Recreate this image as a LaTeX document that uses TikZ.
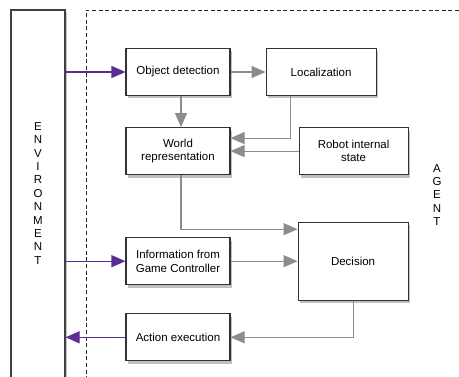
\documentclass[tikz,border=0pt]{standalone}
\usepackage{fontspec}
\setmainfont{Liberation Sans}
\usepackage{tikz}
\usetikzlibrary{positioning,shadows,arrows.meta}
\definecolor{flowgray}{HTML}{8C8C8C}
\definecolor{envpurple}{HTML}{5A2D91}
\begin{document}
\begin{tikzpicture}[x=1pt, y=1pt,
      font=\fontsize{11.5}{13.4}\selectfont,
      block/.style={draw=black!80, line width=1.1pt, fill=white, align=center,
        minimum width=104pt, minimum height=47pt, inner sep=2pt,
        drop shadow={shadow xshift=2pt, shadow yshift=-3pt, opacity=0.45, fill=black!55}},
      flow/.style={draw=flowgray, line width=1.1pt, -{Triangle[length=14pt, width=12pt]}},
      sense/.style={draw=envpurple, line width=1.2pt, -{Triangle[length=14pt, width=12pt]}}]
    \useasboundingbox (0,0) rectangle (459,-377);
    \draw[black!85, line width=0.9pt, dash pattern=on 4pt off 2.6pt] (86,-400) -- (86,-10) -- (480,-10);
    \node[draw=black!75, line width=1.2pt, fill=white, minimum width=54pt, minimum height=392pt,
      align=center,
      drop shadow={shadow xshift=2pt, shadow yshift=-2pt, opacity=0.4, fill=black!55}]
      (env) at (38,-206) {E\\N\\V\\I\\R\\O\\N\\M\\E\\N\\T\\[12pt]};
    \node[align=center] (agent) at (437,-195) {A\\G\\E\\N\\T};
    \node[block] (objdet) at (178,-72) {Object detection};
    \node[block, minimum width=110pt, right=35pt of objdet] (loc) {Localization};
    \node[block, below=31pt of objdet] (world) {World\\representation};
    \node[block, minimum width=109pt, right=68pt of world] (robot) {Robot internal\\state};
    \node[block, below=62pt of world] (info) {Information from\\Game Controller};
    \node[block, minimum width=110pt, minimum height=78pt, right=67pt of info] (decision) {Decision};
    \node[block, below=28pt of info] (action) {Action execution};
    \draw[sense] (env.east |- objdet) -- (objdet.west);
    \draw[sense] (env.east |- info) -- (info.west);
    \draw[sense] (action.west) -- (env.east |- action);
    \draw[flow] (objdet.east) -- (loc.west);
    \draw[flow] ([xshift=3pt]objdet.south) -- ([xshift=3pt]world.north);
    \draw[flow] ([xshift=-31pt]loc.south) |- ([yshift=13pt]world.east);
    \draw[flow] (robot.west) -- (robot.west -| world.east);
    \draw[flow] ([xshift=3pt]world.south) |- ([yshift=32pt]decision.west);
    \draw[flow] (info.east) -- (decision.west);
    \draw[flow] (decision.south) |- (action.east);
  \end{tikzpicture}
\end{document}
